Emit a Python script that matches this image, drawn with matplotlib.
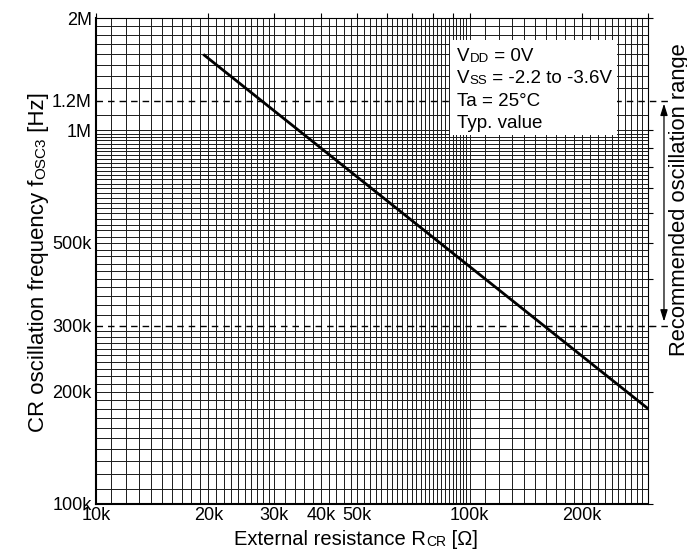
import numpy as np
import matplotlib
matplotlib.use("Agg")
import matplotlib.pyplot as plt
from matplotlib.patches import Rectangle

plt.rcParams['font.family'] = ['Liberation Sans', 'DejaVu Sans']
plt.rcParams['font.size'] = 13

# typ. curve
r_cr = [19.5e3, 300e3]      # ohm
f_osc = [1.59e6, 1.80e5]    # Hz

# recommended oscillation range
f_min = 300e3
f_max = 1.2e6

x_ticks = [10e3, 20e3, 30e3, 40e3, 50e3, 100e3, 200e3]
x_labels = ["10k", "20k", "30k", "40k", "50k", "100k", "200k"]
y_ticks = [100e3, 200e3, 300e3, 500e3, 1e6, 1.2e6, 2e6]
y_labels = ["100k", "200k", "300k", "500k", "1M", "1.2M", "2M"]

# log paper rulings
grid_x = np.concatenate([np.arange(11e3, 30e3, 1e3),
                         np.arange(30e3, 100e3, 2e3),
                         np.arange(100e3, 300e3, 10e3)])
grid_y = np.concatenate([np.arange(110e3, 300e3, 10e3),
                         np.arange(320e3, 1e6, 20e3),
                         np.arange(1e6, 2e6, 100e3)])
grid_y = grid_y[~np.isclose(grid_y, f_max)]
mark_x = np.concatenate([np.arange(10e3, 100e3, 10e3), [100e3, 200e3, 300e3]])
mark_y = np.concatenate([np.arange(100e3, 1e6, 100e3), [1e6, 2e6]])


def mixed_text(ax, x, y, parts, vertical=False):
    # pieces of (text, size) set one after another, for the small-caps suffixes
    if vertical:
        t = ax.text(x, y, parts[0][0], fontsize=parts[0][1], rotation=90,
                    ha='right', va='bottom', transform=ax.transAxes, zorder=5)
    else:
        t = ax.text(x, y, parts[0][0], fontsize=parts[0][1],
                    ha='left', va='bottom', transform=ax.transAxes, zorder=5)
    out = [t]
    for s, fs in parts[1:]:
        if vertical:
            t = ax.annotate(s, xy=(1, 1), xycoords=t, rotation=90, ha='right',
                            va='bottom', fontsize=fs, annotation_clip=False, zorder=5)
        else:
            t = ax.annotate(s, xy=(1, 0), xycoords=t, ha='left', va='bottom',
                            fontsize=fs, annotation_clip=False, zorder=5)
        out.append(t)
    return out


def center_on(fig, ax, pieces, c, vertical=False):
    # shift a chain of pieces so that it is centred at c (axes fraction)
    fig.canvas.draw()
    r = fig.canvas.get_renderer()
    bbs = [p.get_window_extent(r) for p in pieces]
    abox = ax.get_window_extent(r)
    if vertical:
        length = (bbs[-1].y1 - bbs[0].y0) / abox.height
        pieces[0].set_y(c - length / 2)
    else:
        length = (bbs[-1].x1 - bbs[0].x0) / abox.width
        pieces[0].set_x(c - length / 2)


fig = plt.figure(figsize=(6.87, 5.54), dpi=100)
ax = fig.add_axes([0.1397, 0.0903, 0.8035, 0.8772])
ax.set_xscale('log')
ax.set_yscale('log')
ax.set_xlim(10e3, 300e3)
ax.set_ylim(100e3, 2e6)

ax.vlines(grid_x, 0, 1, transform=ax.get_xaxis_transform(), colors='0.1', lw=0.7, zorder=1)
ax.hlines(grid_y, 0, 1, transform=ax.get_yaxis_transform(), colors='0.1', lw=0.7, zorder=1)

# short outside marks at the decade values (top and right)
ax.vlines(mark_x, 1, 1 + 5 / 486, transform=ax.get_xaxis_transform(), colors='k',
          lw=0.8, clip_on=False)
ax.hlines(mark_y, 1, 1 + 5 / 552, transform=ax.get_yaxis_transform(), colors='k',
          lw=0.8, clip_on=False)

ax.set_xticks(x_ticks, labels=x_labels)
ax.set_yticks(y_ticks, labels=y_labels)
ax.minorticks_off()
ax.tick_params(axis='both', length=0, labelsize=13)
ax.tick_params(axis='x', pad=2.2)
ax.tick_params(axis='y', pad=2.9)

for side in ['left', 'bottom']:
    ax.spines[side].set_linewidth(1.5)
for side in ['top', 'right']:
    ax.spines[side].set_linewidth(0.8)

ax.plot(r_cr, f_osc, color='k', lw=2.0, zorder=3)

# recommended range
for f in [f_min, f_max]:
    ax.axhline(f, xmin=0, xmax=1.036, color='k', lw=1.0, ls=(0, (4.7, 3.6)),
               clip_on=False, zorder=2)
ax.annotate('', xy=(1.029, f_max), xytext=(1.029, f_min),
            xycoords=ax.get_yaxis_transform(),
            arrowprops=dict(arrowstyle='<|-|>,head_length=0.7,head_width=0.22',
                            color='k', lw=0.9, shrinkA=3, shrinkB=2,
                            mutation_scale=10),
            annotation_clip=False)
ax.text(1.038, 0.627, 'Recommended oscillation range', rotation=90, fontsize=15.8,
        ha='left', va='center', transform=ax.transAxes)

# condition box
ax.add_patch(Rectangle((0.641, 0.759), 0.3025, 0.1955, transform=ax.transAxes,
                       facecolor='white', edgecolor='none', zorder=4))
mixed_text(ax, 0.654, 0.9035, [("V", 13.5), ("DD", 9.5), (" = 0V", 13.5)])
mixed_text(ax, 0.654, 0.8582, [("V", 13.5), ("SS", 9.5), (" = -2.2 to -3.6V", 13.5)])
ax.text(0.654, 0.8109, "Ta = 25°C", fontsize=13.5, ha='left', va='bottom',
        transform=ax.transAxes, zorder=5)
ax.text(0.654, 0.7656, "Typ. value", fontsize=13.5, ha='left', va='bottom',
        transform=ax.transAxes, zorder=5)

# axis titles
xl = mixed_text(ax, 0.2464, -0.0930, [("External resistance R", 14.5), ("CR", 10),
                                      (" [Ω]", 14.5)])
yl = mixed_text(ax, -0.086, 0.08, [("CR oscillation frequency f", 16), ("OSC3", 11),
                                   (" [Hz]", 16)], vertical=True)
center_on(fig, ax, xl, 0.471)
center_on(fig, ax, yl, 0.498, vertical=True)

fig.savefig("out.png", dpi=100)
